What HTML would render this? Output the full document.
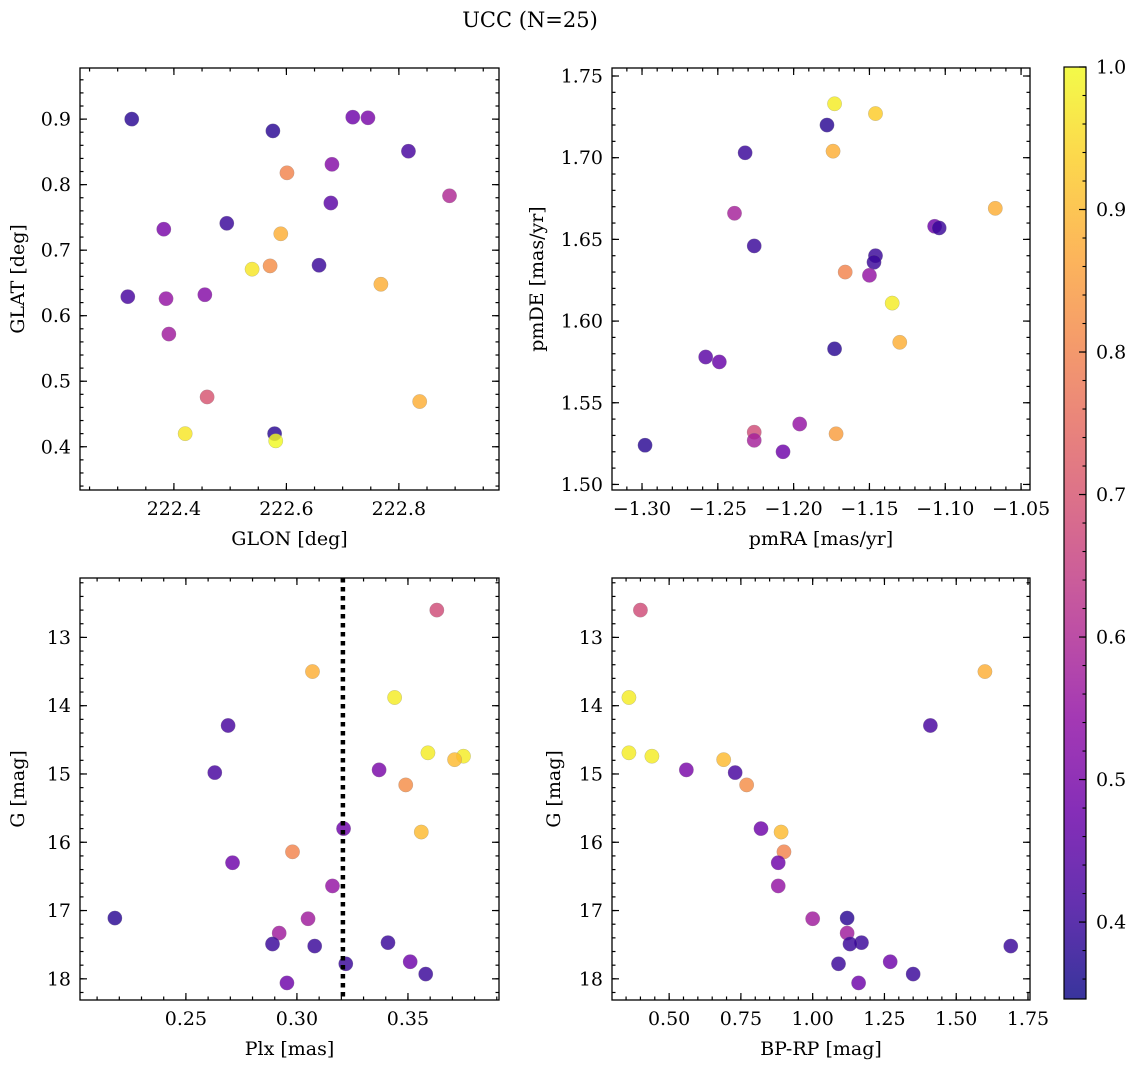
<!DOCTYPE html>
<html><head><meta charset="utf-8">
<style>
html,body{margin:0;padding:0;background:#fff;}
svg{display:block;font-family:"DejaVu Serif","Liberation Serif",serif;}
</style></head>
<body>
<svg id="fig" width="1136" height="1067" viewBox="0 0 1136 1067" xmlns="http://www.w3.org/2000/svg">
<text x="530" y="27" font-size="21" text-anchor="middle">UCC (N=25)</text>
</svg>
<script>
// ---- data ----
const glon = [222.325,222.576,222.718,222.745,222.817,222.601,222.681,222.890,222.679,222.382,222.494,222.590,222.539,222.571,222.658,222.768,222.318,222.386,222.455,222.391,222.459,222.837,222.420,222.579,222.581];
const glat = [0.900,0.882,0.903,0.902,0.851,0.818,0.831,0.783,0.772,0.732,0.741,0.725,0.671,0.676,0.677,0.648,0.629,0.626,0.632,0.572,0.476,0.469,0.420,0.420,0.409];
const probTop1 = [0.38,0.38,0.48,0.50,0.42,0.80,0.52,0.60,0.45,0.50,0.40,0.88,0.97,0.82,0.40,0.88,0.42,0.55,0.52,0.57,0.70,0.88,0.97,0.38,1.00];
const pmra = [-1.298,-1.173,-1.146,-1.178,-1.232,-1.174,-1.239,-1.067,-1.107,-1.104,-1.226,-1.146,-1.147,-1.166,-1.150,-1.135,-1.130,-1.173,-1.258,-1.249,-1.226,-1.226,-1.196,-1.172,-1.207];
const pmde = [1.524,1.733,1.727,1.720,1.703,1.704,1.666,1.669,1.658,1.657,1.646,1.640,1.636,1.630,1.628,1.611,1.587,1.583,1.578,1.575,1.532,1.527,1.537,1.531,1.520];
const probTop2 = [0.38,0.98,0.93,0.38,0.40,0.88,0.58,0.88,0.48,0.40,0.40,0.40,0.40,0.80,0.55,0.98,0.88,0.38,0.45,0.47,0.68,0.58,0.55,0.85,0.48];
const plx = [0.363,0.307,0.344,0.269,0.359,0.375,0.371,0.337,0.263,0.349,0.321,0.356,0.298,0.271,0.316,0.218,0.305,0.292,0.341,0.289,0.308,0.322,0.351,0.358,0.2955];
const gmag = [12.60,13.50,13.88,14.29,14.69,14.74,14.79,14.94,14.98,15.16,15.80,15.85,16.14,16.30,16.64,17.11,17.12,17.33,17.47,17.49,17.52,17.78,17.75,17.93,18.06];
const bprp = [0.40,1.60,0.36,1.41,0.36,0.44,0.69,0.56,0.73,0.77,0.82,0.89,0.90,0.88,0.88,1.12,1.00,1.12,1.17,1.13,1.69,1.09,1.27,1.35,1.16];
const probBot = [0.68,0.88,0.98,0.42,0.98,0.98,0.90,0.50,0.42,0.82,0.48,0.90,0.80,0.48,0.55,0.38,0.57,0.57,0.40,0.40,0.40,0.40,0.48,0.40,0.48];
const plxLine = [0.3207];
const cbarTicks = [0.4,0.5,0.6,0.7,0.8,0.9,1.0];
const vmin = 0.346, vmax = 1.0;

const NS = "http://www.w3.org/2000/svg";
const svg = document.getElementById('fig');
const stops = ["#0d0887","#41049d","#6a00a8","#8f0da4","#b12a90","#cc4778","#e16462","#f2844b","#fca636","#fcce25","#f0f921"];
function hex(h){return [parseInt(h.slice(1,3),16),parseInt(h.slice(3,5),16),parseInt(h.slice(5,7),16)];}
function plasma(t){t=Math.max(0,Math.min(1,t));const f=t*10,i=Math.min(9,Math.floor(f)),r=f-i;const a=hex(stops[i]),b=hex(stops[i+1]);
 return `rgb(${Math.round(a[0]+(b[0]-a[0])*r)},${Math.round(a[1]+(b[1]-a[1])*r)},${Math.round(a[2]+(b[2]-a[2])*r)})`;}
function cmap(v){return plasma((v-vmin)/(vmax-vmin));}
function el(tag,attrs,parent){const e=document.createElementNS(NS,tag);for(const k in attrs)e.setAttribute(k,attrs[k]);(parent||svg).appendChild(e);return e;}
const TFS = 19, LFS = 19;

function panel(cfg){
  const {name,x0,x1,y0,y1,xd,yd,xt,xminor,yt,yminor,xfmt,yfmt,xlabel,ylabel,ylabelX,xs,ys,cs,rev} = cfg;
  const g = el('g',{});
  
  
  const sx = v => x0 + (v-xd[0])/(xd[1]-xd[0])*(x1-x0);
  const sy = rev ? (v => y0 + (v-yd[0])/(yd[1]-yd[0])*(y1-y0)) : (v => y1 - (v-yd[0])/(yd[1]-yd[0])*(y1-y0));
  const tg = el('g',{stroke:'#000','stroke-width':1.2},g);
  const inRange=(v,d)=>v>=Math.min(d[0],d[1])-1e-9&&v<=Math.max(d[0],d[1])+1e-9;
  for(let v=Math.ceil(xd[0]/xminor)*xminor; v<=xd[1]; v+=xminor){
    const X=sx(v); el('line',{x1:X,x2:X,y1:y1,y2:y1-3.5},tg); el('line',{x1:X,x2:X,y1:y0,y2:y0+3.5},tg);}
  const ylo=Math.min(yd[0],yd[1]), yhi=Math.max(yd[0],yd[1]);
  for(let v=Math.ceil(ylo/yminor)*yminor; v<=yhi; v+=yminor){
    const Y=sy(v); el('line',{x1:x0,x2:x0+3.5,y1:Y,y2:Y},tg); el('line',{x1:x1,x2:x1-3.5,y1:Y,y2:Y},tg);}
  xt.forEach(v=>{ if(!inRange(v,xd))return; const X=sx(v);
    el('line',{x1:X,x2:X,y1:y1,y2:y1-7},tg); el('line',{x1:X,x2:X,y1:y0,y2:y0+7},tg);
    const t=el('text',{x:X,y:y1+25,'font-size':TFS,'text-anchor':'middle'},g); t.textContent=xfmt(v);
    
    });
  yt.forEach(v=>{ const Y=sy(v);
    el('line',{x1:x0,x2:x0+7,y1:Y,y2:Y},tg); el('line',{x1:x1,x2:x1-7,y1:Y,y2:Y},tg);
    const t=el('text',{x:x0-9,y:Y+6.5,'font-size':TFS,'text-anchor':'end'},g); t.textContent=yfmt(v);
    
    });
  const pg = el('g',{},g);
  xs.forEach((v,i)=>{
    const c = el('circle',{cx:sx(v),cy:sy(ys[i]),r:7.2,fill:cmap(cs[i]),'fill-opacity':0.82,stroke:'#888','stroke-width':0.4,'stroke-opacity':0.6},pg);
    
    
  });
  if(cfg.vline){ cfg.vline.forEach(v=>{ const l=el('line',{x1:sx(v),x2:sx(v),y1:y0,y2:y1,stroke:'#000','stroke-width':4.5,'stroke-dasharray':'4.5,4.5'},g);
    
    });}
  const fr = el('rect',{x:x0,y:y0,width:x1-x0,height:y1-y0,fill:'none',stroke:'#000','stroke-width':1.3},g);
  
  
  const xl = el('text',{x:(x0+x1)/2,y:y1+55,'font-size':LFS,'text-anchor':'middle'},g); xl.textContent=xlabel;
  
  
  const yc=(y0+y1)/2;
  const yl = el('text',{x:ylabelX,y:yc,'font-size':LFS,'text-anchor':'middle',transform:`rotate(-90 ${ylabelX} ${yc})`},g); yl.textContent=ylabel;
  
  
}
const f1=v=>v.toFixed(1), f2=v=>(v<0?'\u2212':'')+Math.abs(v).toFixed(2), f0=v=>v.toFixed(0);
panel({name:'glon-glat-panel',x0:80,x1:499,y0:68,y1:490,xd:[222.233,222.978],yd:[0.334,0.978],
  xt:[222.4,222.6,222.8],xminor:0.05,yt:[0.4,0.5,0.6,0.7,0.8,0.9],yminor:0.02,xfmt:f1,yfmt:f1,
  xlabel:'GLON [deg]',ylabel:'GLAT [deg]',ylabelX:24,xs:glon,ys:glat,cs:probTop1});
panel({name:'pm-panel',x0:612,x1:1030,y0:68,y1:490,xd:[-1.3198,-1.0441],yd:[1.4966,1.7549],
  xt:[-1.30,-1.25,-1.20,-1.15,-1.10,-1.05],xminor:0.01,yt:[1.50,1.55,1.60,1.65,1.70,1.75],yminor:0.01,xfmt:f2,yfmt:f2,
  xlabel:'pmRA [mas/yr]',ylabel:'pmDE [mas/yr]',ylabelX:543,xs:pmra,ys:pmde,cs:probTop2});
panel({name:'plx-g-panel',x0:80,x1:499,y0:578,y1:1000,xd:[0.2023,0.391],yd:[12.13,18.31],rev:true,
  xt:[0.25,0.30,0.35],xminor:0.01,yt:[13,14,15,16,17,18],yminor:0.2,xfmt:f2,yfmt:f0,
  xlabel:'Plx [mas]',ylabel:'G [mag]',ylabelX:24,xs:plx,ys:gmag,cs:probBot,vline:plxLine});
panel({name:'cmd-panel',x0:612,x1:1030,y0:578,y1:1000,xd:[0.301,1.757],yd:[12.13,18.31],rev:true,
  xt:[0.50,0.75,1.00,1.25,1.50,1.75],xminor:0.05,yt:[13,14,15,16,17,18],yminor:0.2,xfmt:f2,yfmt:f0,
  xlabel:'BP-RP [mag]',ylabel:'G [mag]',ylabelX:560,xs:bprp,ys:gmag,cs:probBot});

const cb = el('g',{});


const defs = el('defs',{},cb);
const lg = el('linearGradient',{id:'cbg',x1:0,y1:1,x2:0,y2:0},defs);
for(let i=0;i<=20;i++){ el('stop',{offset:i/20,'stop-color':plasma(i/20),'stop-opacity':0.82},lg); }
const cx0=1064,cx1=1086,cy0=67,cy1=999;
el('rect',{x:cx0,y:cy0,width:cx1-cx0,height:cy1-cy0,fill:'url(#cbg)'},cb);
const csy = v => cy1-(v-vmin)/(vmax-vmin)*(cy1-cy0);
for(let v=0.36; v<=1.0001; v+=0.02){ const Y=csy(v); el('line',{x1:cx1,x2:cx1-3.5,y1:Y,y2:Y,stroke:'#000','stroke-width':1.1},cb);}
cbarTicks.forEach(v=>{const Y=csy(v);
  el('line',{x1:cx1,x2:cx1-7,y1:Y,y2:Y,stroke:'#000','stroke-width':1.2},cb);
  const t=el('text',{x:cx1+10,y:Y+6.5,'font-size':TFS},cb); t.textContent=v.toFixed(1);
  
  });
el('rect',{x:cx0,y:cy0,width:cx1-cx0,height:cy1-cy0,fill:'none',stroke:'#000','stroke-width':1.2},cb);
</script>
</body></html>
